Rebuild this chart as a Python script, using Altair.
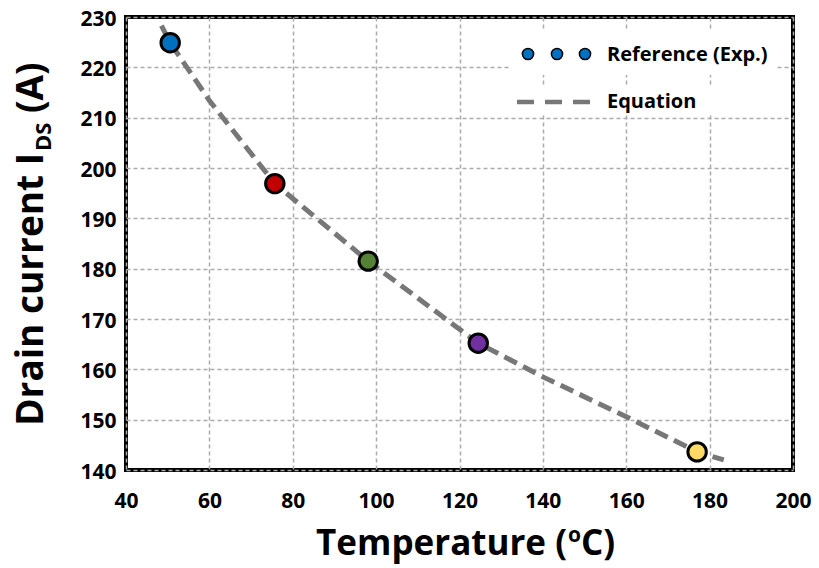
import altair as alt
import pandas as pd

# Measured drain current at five temperatures
temp_exp = [50.6, 75.7, 98.1, 124.5, 177.0]
ids_exp = [224.9, 196.9, 181.5, 165.2, 143.6]
point_ids = ["p1", "p2", "p3", "p4", "p5"]
point_colors = ["#0070C0", "#C00000", "#548235", "#7030A0", "#FFD966"]

# Equation curve
temp_eq = [48.5, 50.6, 60, 75.7, 98.1, 124.5, 140, 160, 177.0, 183.4]
ids_eq = [228.3, 224.9, 213.4, 196.9, 181.5, 165.2, 158.5, 150.6, 143.6, 142.0]

x_ticks = list(range(40, 201, 20))
y_ticks = list(range(140, 231, 10))

legend_labels = ["Reference (Exp.)", "Equation"]

FONT = "Open Sans"
W, H = 667, 453
GRAY = "#777777"

exp_df = pd.DataFrame({"T": temp_exp, "I": ids_exp, "id": point_ids})
eq_df = pd.DataFrame({"T": temp_eq, "I": ids_eq})

x_enc = alt.X(
    "T:Q",
    scale=alt.Scale(domain=[40, 200], nice=False),
    axis=alt.Axis(values=x_ticks, title=None, ticks=False, domain=False,
                  labelPadding=20, labelFontSize=21, labelFlush=False),
)
y_enc = alt.Y(
    "I:Q",
    scale=alt.Scale(domain=[140, 230], nice=False),
    axis=alt.Axis(values=y_ticks, title=None, ticks=False, domain=False,
                  labelPadding=10, labelFontSize=21, labelOffset=2, labelFlush=False),
)

line = alt.Chart(eq_df).mark_line(
    color=GRAY, strokeWidth=5, strokeDash=[14, 7]
).encode(x=x_enc, y=y_enc, order="T:Q")

points = alt.Chart(exp_df).mark_point(
    filled=True, size=340, stroke="black", strokeWidth=3, opacity=1
).encode(
    x=alt.X("T:Q"),
    y=alt.Y("I:Q"),
    fill=alt.Fill("id:N", scale=alt.Scale(domain=point_ids, range=point_colors), legend=None),
)

# Legend: white panels behind each entry
one = pd.DataFrame({"k": [0]})
box1 = alt.Chart(one).mark_rect(color="white").encode(
    x=alt.value(384), x2=alt.value(651), y=alt.value(13), y2=alt.value(58))
box2 = alt.Chart(one).mark_rect(color="white").encode(
    x=alt.value(384), x2=alt.value(604), y=alt.value(70), y2=alt.value(98))

legend_dots = alt.layer(*[
    alt.Chart(one).mark_point(filled=True, size=125, fill="#0070C0",
                              stroke="black", strokeWidth=1.5, opacity=1)
    .encode(x=alt.value(px), y=alt.value(37))
    for px in (402, 431, 459)
])
legend_dash = alt.Chart(one).mark_rule(
    color=GRAY, strokeWidth=4.5, strokeDash=[17, 11]
).encode(x=alt.value(391), x2=alt.value(465), y=alt.value(85))
legend_text = alt.layer(*[
    alt.Chart(one).mark_text(
        text=t, font=FONT, fontWeight="bold", fontSize=20,
        align="left", baseline="middle", color="black"
    ).encode(x=alt.value(481), y=alt.value(yy))
    for t, yy in zip(legend_labels, (38, 85))
])

# Axis titles with sub/superscripts
def txt(t, size, **kw):
    return alt.Chart(one).mark_text(
        text=t, font=FONT, fontWeight="bold", fontSize=size, color="black",
        baseline="alphabetic", **kw)

ya, yb = -83, 136
y_title = alt.layer(
    txt("Drain current I", 37, angle=270, align="right").encode(x=alt.value(ya), y=alt.value(yb)),
    txt("DS", 22, angle=270, align="left", dx=2, dy=8).encode(x=alt.value(ya), y=alt.value(yb)),
    txt("(A)", 37, angle=270, align="left", dx=40).encode(x=alt.value(ya), y=alt.value(yb)),
)

xa, xb = 441, 538
x_title = alt.layer(
    txt("Temperature (", 35, align="right").encode(x=alt.value(xa), y=alt.value(xb)),
    txt("o", 21, align="left", dx=1, dy=-13).encode(x=alt.value(xa), y=alt.value(xb)),
    txt("C)", 35, align="left", dx=14).encode(x=alt.value(xa), y=alt.value(xb)),
)

chart = alt.layer(
    line, points, box1, box2, legend_dots, legend_dash, legend_text, y_title, x_title
).properties(
    width=W, height=H,
    autosize=alt.AutoSizeParams(type="none"),
    padding={"left": 126, "top": 17, "right": 819 - 126 - W, "bottom": 568 - 17 - H},
    background="white",
).configure_view(
    stroke="black", strokeWidth=4
).configure_axis(
    grid=True, gridColor="#ababab", gridDash=[4, 3], gridWidth=1.5, gridOpacity=1,
    labelFont=FONT, labelFontWeight="bold", labelColor="black",
)

chart.save("out.html", embed_options={"renderer": "svg", "actions": False})
